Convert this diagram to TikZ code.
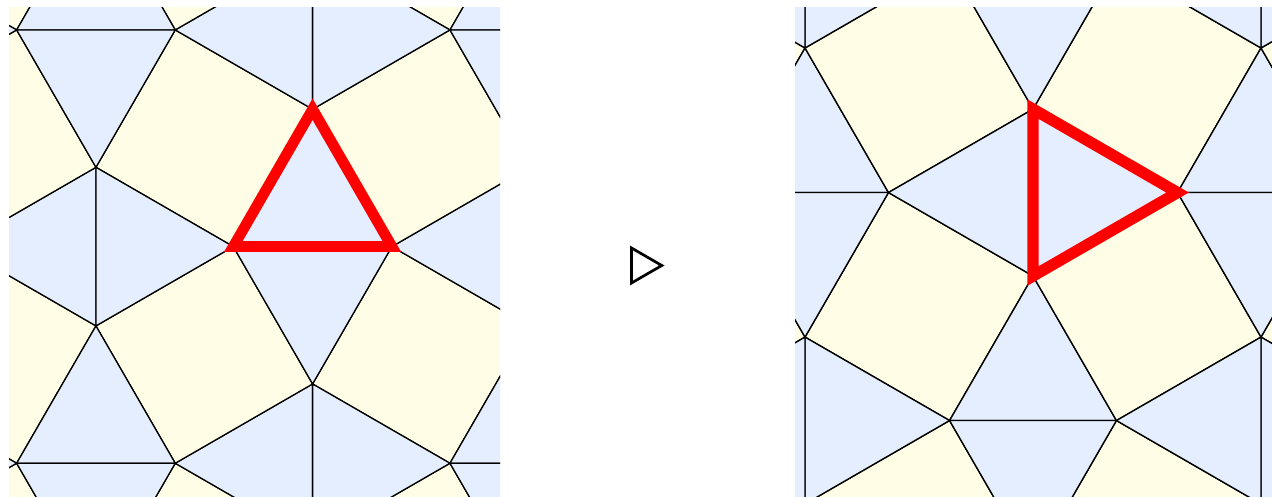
\documentclass[tikz,border=0pt]{standalone}
\definecolor{sqfill}{RGB}{255,253,230}
\definecolor{trfill}{RGB}{228,238,254}
\tikzset{
  sqface/.style={fill=sqfill, draw=black},
  trface/.style={fill=trfill, draw=black},
  hilite/.style={draw=red},
  markerline/.style={draw=black, line width=2.7pt},
}
\newcommand\snubtiling{%
  \foreach \i in {-3,...,3}{%
    \foreach \j in {-3,...,3}{%
      \begin{scope}[shift={(1.3660254*\i-1.3660254*\j, 1.3660254*\i+1.3660254*\j)}]
        \path[sqface] (0,0) -- (0.5,0.8660254) -- (-0.3660254,1.3660254) -- (-0.8660254,0.5) -- cycle;
        \path[sqface] (1,0) -- (1.8660254,0.5) -- (1.3660254,1.3660254) -- (0.5,0.8660254) -- cycle;
        \path[trface] (0,0) -- (1,0) -- (0.5,0.8660254) -- cycle;
        \path[trface] (0,0) -- (1,0) -- (0.5,-0.8660254) -- cycle;
        \path[trface] (0,0) -- (-0.8660254,0.5) -- (-0.8660254,-0.5) -- cycle;
        \path[trface] (0.5,0.8660254) -- (-0.3660254,1.3660254) -- (0.5,1.8660254) -- cycle;
      \end{scope}%
    }%
  }%
}
\begin{document}
\begin{tikzpicture}[x=1pt,y=-1pt]
\useasboundingbox (0,0) rectangle (1272,497);
% left panel
\begin{scope}
  \clip (9,7.5) rectangle (500,497);
  \begin{scope}[shift={(233.3pt,-246.6pt)}, x={(158.6pt,0pt)}, y={(0pt,158.6pt)}, line width=1.3pt]
    \snubtiling
    \draw[hilite, line width=10.7pt] (0,0) -- (1,0) -- (0.5,0.8660254) -- cycle;
  \end{scope}
\end{scope}
% marker
\draw[markerline] (631.5,248) -- (661.8,265.5) -- (631.5,283) -- cycle;
% right panel
\begin{scope}
  \clip (795,7.3) rectangle (1272,497);
  \begin{scope}[shift={(1033pt,-109.1pt)}, x={(0pt,-166.9pt)}, y={(166.9pt,0pt)}, line width=1.37pt]
    \snubtiling
    \draw[hilite, line width=11.3pt] (0,0) -- (1,0) -- (0.5,0.8660254) -- cycle;
  \end{scope}
\end{scope}
\end{tikzpicture}
\end{document}
